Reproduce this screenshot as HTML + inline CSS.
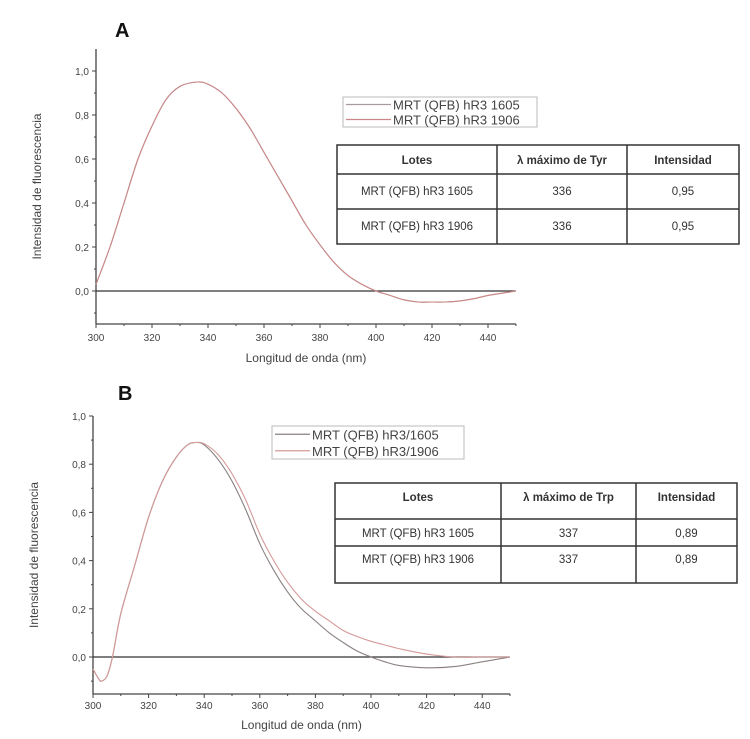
<!DOCTYPE html>
<html><head><meta charset="utf-8">
<style>
body{margin:0;background:#fff;}
svg{display:block;font-family:"Liberation Sans",sans-serif;}
.tk{font-size:10px;fill:#444;}
.tbl{font-family:"Liberation Sans",sans-serif;font-size:11.5px;fill:#333;}
</style></head>
<body>
<svg id="fig" width="750" height="739" viewBox="0 0 750 739"></svg>
<script>
// Panel A data
const xA = [300,305,310,315,320,325,330,336,340,345,350,355,360,365,370,375,380,385,390,395,400,405,410,415,420,425,430,435,440,445,450];
const yA1605 = [0.03,0.2,0.4,0.6,0.75,0.87,0.93,0.95,0.94,0.9,0.83,0.74,0.63,0.52,0.41,0.3,0.21,0.13,0.07,0.03,0.0,-0.02,-0.04,-0.05,-0.05,-0.05,-0.045,-0.035,-0.02,-0.01,0];
const yA1906 = [0.03,0.2,0.4,0.6,0.75,0.87,0.93,0.95,0.94,0.9,0.83,0.74,0.63,0.52,0.41,0.3,0.21,0.13,0.07,0.03,0.0,-0.02,-0.04,-0.05,-0.05,-0.05,-0.045,-0.035,-0.02,-0.01,0];
// Panel B data
const xB = [300,302,303,305,307,310,315,320,325,330,334,337,340,345,350,355,360,365,370,375,380,385,390,395,400,405,410,420,430,440,450];
const yB1605 = [-0.05,-0.09,-0.1,-0.08,0,0.18,0.38,0.58,0.73,0.83,0.88,0.89,0.88,0.82,0.73,0.61,0.47,0.36,0.27,0.2,0.15,0.1,0.06,0.025,0,-0.02,-0.035,-0.045,-0.04,-0.02,0];
const yB1906 = [-0.05,-0.09,-0.1,-0.08,0,0.18,0.38,0.58,0.73,0.83,0.88,0.89,0.885,0.84,0.76,0.65,0.51,0.4,0.31,0.24,0.19,0.15,0.11,0.085,0.065,0.05,0.035,0.012,0,0,0];
const xTicks = [300,320,340,360,380,400,420,440];
const yTicks = [0,0.2,0.4,0.6,0.8,1.0];
const tableAHead = ["Lotes","λ máximo de Tyr","Intensidad"];
const tableARows = [["MRT (QFB) hR3 1605","336","0,95"],["MRT (QFB) hR3 1906","336","0,95"]];
const tableBHead = ["Lotes","λ máximo de Trp","Intensidad"];
const tableBRows = [["MRT (QFB) hR3 1605","337","0,89"],["MRT (QFB) hR3 1906","337","0,89"]];

const NS="http://www.w3.org/2000/svg";
const svg=document.getElementById('fig');
function mk(tag,attrs,parent,text){const e=document.createElementNS(NS,tag);for(const k in attrs)e.setAttribute(k,attrs[k]);if(text!==undefined)e.textContent=text;(parent||svg).appendChild(e);return e;}

function smooth(pts){
  let d='M'+pts[0][0].toFixed(1)+' '+pts[0][1].toFixed(1);
  for(let i=0;i<pts.length-1;i++){
    const p0=pts[Math.max(0,i-1)],p1=pts[i],p2=pts[i+1],p3=pts[Math.min(pts.length-1,i+2)];
    const c1=[p1[0]+(p2[0]-p0[0])/6,p1[1]+(p2[1]-p0[1])/6];
    const c2=[p2[0]-(p3[0]-p1[0])/6,p2[1]-(p3[1]-p1[1])/6];
    d+=` C${c1[0].toFixed(1)} ${c1[1].toFixed(1)} ${c2[0].toFixed(1)} ${c2[1].toFixed(1)} ${p2[0].toFixed(1)} ${p2[1].toFixed(1)}`;
  }
  return d;
}

function panel(p){
  const g=mk('g',{});
  
  
  const sx=v=>p.x0+(v-300)*(p.x1-p.x0)/150;
  const sy=v=>p.y0-(v)*(p.y0-p.y1);
  const lbl=mk('text',{x:p.lx,y:p.ly,'font-size':20,'font-weight':'bold',fill:'#111'},g,p.id);
  
  
  const ya=mk('line',{x1:p.x0,x2:p.x0,y1:p.top,y2:p.bot,stroke:'#444','stroke-width':1.3},g);
  
  const xa=mk('line',{x1:p.x0,x2:p.x1,y1:p.bot,y2:p.bot,stroke:'#444','stroke-width':1.3},g);
  
  const zl=mk('line',{x1:p.x0,x2:p.x1,y1:sy(0),y2:sy(0),stroke:'#333','stroke-width':1.2},g);
  
  for(let v=300;v<=450;v+=10){const major=(v%20===0);mk('line',{x1:sx(v),x2:sx(v),y1:p.bot,y2:p.bot+(major?4:2),stroke:'#444'},g);}
  xTicks.forEach(v=>{const t=mk('text',{x:sx(v),y:p.bot+p.tkOff,'text-anchor':'middle',class:'tk'},g,v);});
  for(let v=-0.1;v<=1.01;v+=0.1){mk('line',{x1:p.x0-(Math.abs(Math.round(v*10))%2===0?4:2),x2:p.x0,y1:sy(v),y2:sy(v),stroke:'#444'},g);}
  yTicks.forEach(v=>{const t=mk('text',{x:p.x0-7,y:sy(v)+4,'text-anchor':'end',class:'tk'},g,v.toFixed(1).replace('.',','));});
  const yt=mk('text',{x:0,y:0,transform:`translate(${p.ytx},${(p.top+p.bot)/2}) rotate(-90)`,'text-anchor':'middle','font-size':12,fill:'#444'},g,'Intensidad de fluorescencia');
  
  const xt=mk('text',{x:(p.x0+p.x1)/2,y:p.bot+p.xtOff,'text-anchor':'middle','font-size':12,fill:'#444'},g,'Longitud de onda (nm)');
  
  p.series.forEach(s=>{
    const pts=s.xs.map((x,i)=>[sx(x),sy(s.ys[i])]);
    const path=mk('path',{d:smooth(pts),fill:'none',stroke:s.color,'stroke-width':1.1},g);
    
    
  });
  const L=p.leg;
  const lg=mk('g',{},g);
  
  mk('rect',{x:L.x,y:L.y,width:L.w,height:L.h,fill:'#fff',stroke:'#bbb'},lg);
  p.series.forEach((s,i)=>{
    const yy=L.y+L.h*(i*2+1)/4;
    mk('line',{x1:L.x+3,x2:L.x+L.lw,y1:yy,y2:yy,stroke:s.color,'stroke-width':1.2},lg);
    const t=mk('text',{x:L.x+L.lw+2,y:yy+5,'font-size':13,fill:'#444'},lg,s.label);
    
  });
  const T=p.tbl;
  const tg=mk('g',{},g);
  
  mk('rect',{x:T.cols[0],y:T.rows[0],width:T.cols[3]-T.cols[0],height:T.rows[3]-T.rows[0],fill:'#fff',stroke:'#333','stroke-width':1.5},tg);
  [1,2].forEach(i=>mk('line',{x1:T.cols[i],x2:T.cols[i],y1:T.rows[0],y2:T.rows[3],stroke:'#333','stroke-width':1.5},tg));
  [1,2].forEach(i=>mk('line',{x1:T.cols[0],x2:T.cols[3],y1:T.rows[i],y2:T.rows[i],stroke:'#333','stroke-width':1.5},tg));
  const cells=[T.head].concat(T.data);
  cells.forEach((row,r)=>row.forEach((c,ci)=>{
    const cx=(T.cols[ci]+T.cols[ci+1])/2;
    const cy=T.rows[r]+T.textOff[r];
    const t=mk('text',{x:cx,y:cy,'text-anchor':'middle',class:'tbl','font-weight':r===0?'bold':'normal'},tg,c);
    
    
  }));
}

panel({id:'A',lx:115,ly:37,x0:96,x1:516,y0:291,y1:71,top:49,bot:324,tkOff:17,xtOff:38,ytx:41,
  series:[{xs:xA,ys:yA1605,color:'#a89a9a',name:'series-1605',label:'MRT (QFB) hR3 1605'},
          {xs:xA,ys:yA1906,color:'#cc8888',name:'series-1906',label:'MRT (QFB) hR3 1906'}],
  leg:{x:343,y:97,w:194,h:30,lw:48},
  tbl:{cols:[337,497,627,739],rows:[145,174,209,244],head:tableAHead,data:tableARows,textOff:[19,21,21]}});

panel({id:'B',lx:118,ly:400,x0:93,x1:510,y0:657,y1:416,top:416,bot:694,tkOff:15,xtOff:35,ytx:38,
  series:[{xs:xB,ys:yB1605,color:'#8a8080',name:'series-1605',label:'MRT (QFB) hR3/1605'},
          {xs:xB,ys:yB1906,color:'#d59a9a',name:'series-1906',label:'MRT (QFB) hR3/1906'}],
  leg:{x:272,y:426,w:192,h:33,lw:38},
  tbl:{cols:[335,501,636,737],rows:[483,519,546,583],head:tableBHead,data:tableBRows,textOff:[18,18,17]}});
</script>
</body></html>
